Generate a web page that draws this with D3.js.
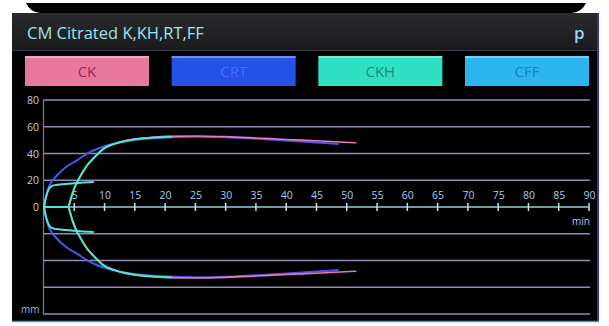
<!DOCTYPE html>
<html>
<head>
<meta charset="utf-8">
<script src="https://cdn.jsdelivr.net/npm/d3@7"></script>
<style>
html,body{margin:0;padding:0;background:#fff;}
svg{display:block;}
text{font-family:"Open Sans","DejaVu Sans",sans-serif;}
</style>
</head>
<body>
<svg id="c" width="609" height="326"></svg>
<script>
// ---- data ----
const title = "CM Citrated K,KH,RT,FF";
const legendNames = ["CK", "CRT", "CKH", "CFF"];
const xTicks = [5,10,15,20,25,30,35,40,45,50,55,60,65,70,75,80,85,90];
const yTickLabels = [80, 60, 40, 20, 0];
const gridValues = [80, 60, 40, 20, -20, -40, -60, -80];

const timeCK = [0, 4.0, 4.3, 4.7, 5.1, 6, 7.1, 8.5, 9.8, 11.5, 13.7, 16, 18, 20.4, 25, 30, 35, 40, 45, 51.5];
const ampCK  = [0, 0,   4,   10,  15,  23, 31, 38, 43.5, 47, 49.8, 51.4, 52.2, 52.8, 53.1, 52.6, 51.6, 50.5, 49.5, 48];

const timeCKH = [0, 4.0, 4.3, 4.7, 5.1, 6, 7.1, 8.5, 9.8, 11.5, 13.7, 16, 18, 21];
const ampCKH  = [0, 0,   4,   10,  15,  23, 31, 38, 43.5, 47, 49.6, 51.2, 51.9, 52.5];

const timeCRT = [0, 0.4, 0.8, 1.2, 2, 3, 4, 5.5, 7, 8.5, 10, 12, 14, 17, 20.4, 25, 30, 35, 40, 45, 48.5];
const ampCRT  = [0, 9,   15,  18.5, 23, 27.5, 31, 35, 39.5, 43, 45.5, 47.8, 49.5, 51, 52, 52.5, 52.1, 51, 49.8, 48.3, 47.1];

const timeCFF = [0, 0.2, 0.5, 0.8, 1.2, 2, 3, 4.5, 6, 8.1];
const ampCFF  = [0, 5,   10,  13.5, 15.5, 16.5, 17, 17.6, 18.1, 18.6];

// ---- styles ----
const legendFill = {CK:"#e8789e", CRT:"#2352e6", CKH:"#30e0c2", CFF:"#2cb6f0"};
const legendText = {CK:"#a3224a", CRT:"#5468ff", CKH:"#1f8a7a", CFF:"#1c7fc4"};
const lineColor  = {CK:"#e77ab8", CRT:"#4b55ea", CKH:"#4de6cf", CFF:"#5ae0e2"};

const svg = d3.select("#c");

// bezel on top
svg.append("path")
  .attr("d","M26,3 Q30,12 40,13 L572,13 Q582,12 586,3 Z")
  .attr("fill","#000");

// panel
svg.append("rect").attr("x",12).attr("y",13).attr("width",587).attr("height",308).attr("fill","#000");
svg.append("line").attr("x1",598).attr("x2",598).attr("y1",13).attr("y2",321)
  .attr("stroke","#2a36a8").attr("stroke-width",2);
svg.append("line").attr("x1",12).attr("x2",599).attr("y1",321.5).attr("y2",321.5)
  .attr("stroke","#6a8ad0").attr("stroke-width",1.5);

// header
const hg = svg.append("defs").append("linearGradient").attr("id","hg").attr("x1",0).attr("x2",0).attr("y1",0).attr("y2",1);
hg.append("stop").attr("offset","0%").attr("stop-color","#2a2a2c");
hg.append("stop").attr("offset","100%").attr("stop-color","#1a1a1c");
svg.append("rect").attr("x",12).attr("y",13).attr("width",585).attr("height",37).attr("fill","url(#hg)");
svg.append("line").attr("x1",12).attr("x2",597).attr("y1",50.5).attr("y2",50.5).attr("stroke","#3a3a48").attr("stroke-width",1);
svg.append("text").attr("x",27).attr("y",39).attr("fill","#9ee6ee")
  .attr("font-size",16.5).text(title);
svg.append("text").attr("x",574).attr("y",39).attr("fill","#8ed8f0")
  .attr("font-size",17).attr("font-weight","600").text("p");

// legend
const legX = d3.scalePoint().domain(legendNames).range([25, 465]);
const legW = 124;
const lg = svg.append("g").selectAll("g").data(legendNames).join("g")
  .attr("transform", d => `translate(${legX(d)},56)`);
lg.append("rect").attr("width",legW).attr("height",30).attr("fill", d => legendFill[d]);
lg.append("rect").attr("width",legW).attr("height",2).attr("fill","#ffffff").attr("opacity",0.35);
lg.append("text").attr("x",legW/2).attr("y",21).attr("text-anchor","middle")
  .attr("font-size",15).attr("fill", d => legendText[d]).text(d => d);

// scales
const x = d3.scaleLinear().domain([0,90]).range([44,589]);
const y = d3.scaleLinear().domain([-80,80]).range([314,100]);

// grid
svg.append("g").selectAll("line").data(gridValues).join("line")
  .attr("x1",43).attr("x2",590).attr("y1", d=>y(d)).attr("y2", d=>y(d))
  .attr("stroke","#8c8cb4").attr("stroke-width",1.4);
// y axis line
svg.append("line").attr("x1",43.5).attr("x2",43.5).attr("y1",y(80)).attr("y2",y(-80))
  .attr("stroke","#7c7ca0").attr("stroke-width",1.2);

// y labels
svg.append("g").selectAll("text").data(yTickLabels).join("text")
  .attr("x",39).attr("y", d=>y(d)+4).attr("text-anchor","end")
  .attr("font-size",10.5).attr("fill","#c4cad8").text(d=>d);
svg.append("text").attr("x",21).attr("y",313).attr("font-size",10).attr("fill","#9ab4f0").text("mm");

// x axis on zero line
const xAxis = d3.axisTop(x).tickValues(xTicks).tickSize(0).tickPadding(8);
const ax = svg.append("g").attr("transform",`translate(0,${y(0)})`).call(xAxis);
ax.select(".domain").remove();
ax.selectAll("text").attr("font-size",10.5).attr("fill","#a8ccf2")
  .attr("font-family","\"Open Sans\",sans-serif");
svg.append("line").attr("x1",44).attr("x2",589).attr("y1",y(0)).attr("y2",y(0))
  .attr("stroke","#9cc8d4").attr("stroke-width",1.5);
svg.append("g").selectAll("line").data(xTicks).join("line")
  .attr("x1",d=>x(d)).attr("x2",d=>x(d)).attr("y1",y(0)-4).attr("y2",y(0)+4)
  .attr("stroke","#c8e0ea").attr("stroke-width",1.5);
svg.append("text").attr("x",590).attr("y",225).attr("text-anchor","end")
  .attr("font-size",10).attr("fill","#a8ccf2").text("min");

// traces
const line = d3.line().x(d=>x(d[0])).y(d=>y(d[1])).curve(d3.curveMonotoneX);
function drawTrace(times, amps, color, w){
  const up = times.map((t,i)=>[t, amps[i]]);
  const dn = times.map((t,i)=>[t, -amps[i]]);
  [up, dn].forEach(pts => {
    svg.append("path").attr("d", line(pts)).attr("fill","none")
      .attr("stroke", color).attr("stroke-width", w).attr("stroke-linecap","round");
  });
}
drawTrace(timeCRT, ampCRT, lineColor.CRT, 2);
drawTrace(timeCK, ampCK, lineColor.CK, 1.6);
drawTrace(timeCKH, ampCKH, lineColor.CKH, 2);
drawTrace(timeCFF, ampCFF, lineColor.CFF, 2);
</script>
</body>
</html>
